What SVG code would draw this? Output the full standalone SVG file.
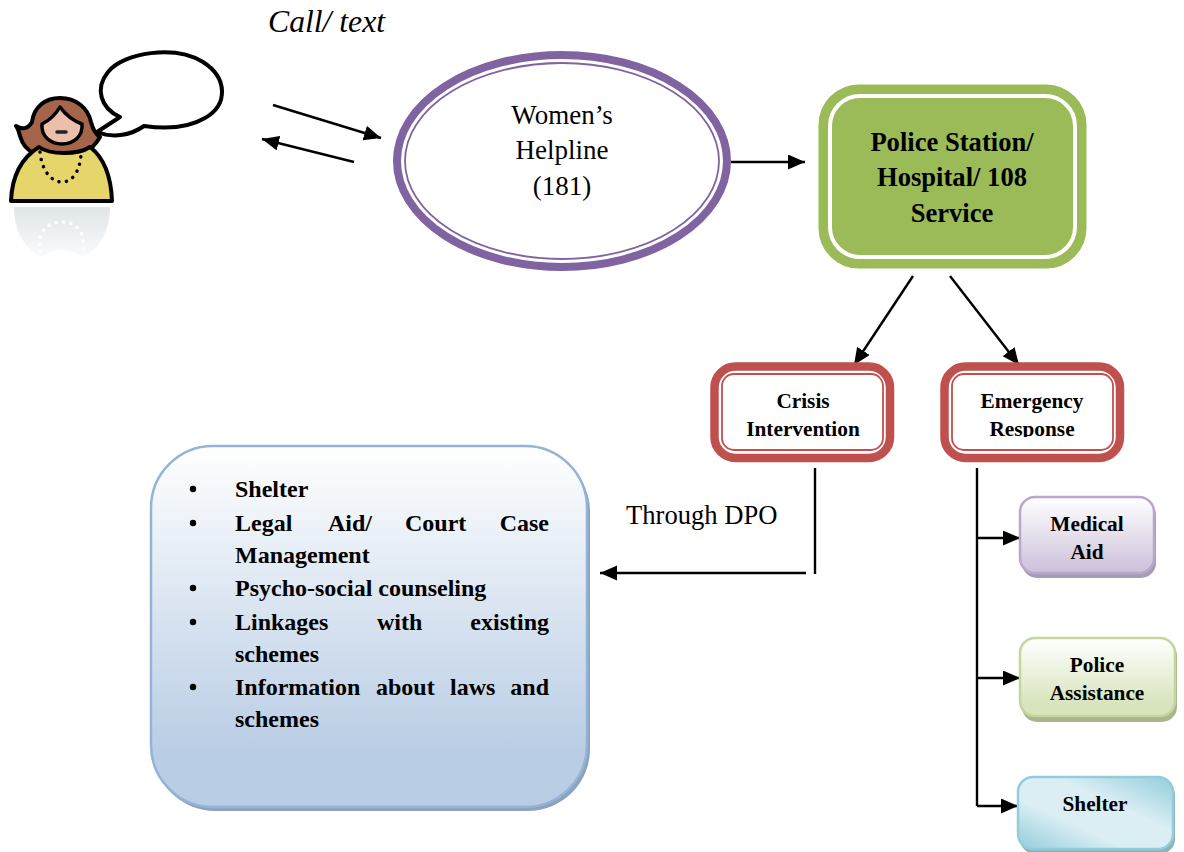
<svg xmlns="http://www.w3.org/2000/svg" width="1184" height="852" viewBox="0 0 1184 852">
<style>
text{font-family:"Liberation Serif","Times New Roman",serif;fill:#000}
.b{font-weight:bold;text-anchor:middle;font-size:21.3px}
.l{font-weight:bold;font-size:24px}
.r{font-size:27px;text-anchor:middle}
.p{font-weight:bold;font-size:26.6px;text-anchor:middle}
.c{stroke:#000;stroke-width:2.4;fill:none}
.red{fill:#fff;stroke:#c0504d;stroke-width:8.5}
.redi{fill:none;stroke:#c0504d;stroke-width:1.8}
</style>
<defs>
<marker id="a" markerUnits="userSpaceOnUse" markerWidth="20" markerHeight="16" refX="17" refY="7.500" orient="auto"><path d="M0 0L17 7.500L0 15Z" fill="#000"/></marker>
<clipPath id="cut"><rect x="700" y="385" width="440" height="52"/></clipPath>
<linearGradient id="gb" x1="0" y1="0" x2="0" y2="1"><stop offset="0" stop-color="#fff"/><stop offset=".85" stop-color="#b9cde5"/><stop offset="1" stop-color="#b9cde5"/></linearGradient>
<linearGradient id="gp" x1="0" y1="0" x2="0" y2="1"><stop offset="0" stop-color="#fff"/><stop offset="1" stop-color="#ccc0da"/></linearGradient>
<linearGradient id="gg" x1="0" y1="0" x2="0" y2="1"><stop offset="0" stop-color="#fff"/><stop offset=".85" stop-color="#d7e4bd"/></linearGradient>
<linearGradient id="gt" x1="0" y1="1" x2="1" y2="0"><stop offset="0" stop-color="#92cddc"/><stop offset=".35" stop-color="#dbeef4"/><stop offset=".62" stop-color="#dbeef4"/><stop offset="1" stop-color="#92cddc"/></linearGradient>
<linearGradient id="gr" x1="0" y1="0" x2="0" y2="1"><stop offset="0" stop-color="#dfe5e8"/><stop offset="1" stop-color="#fff"/></linearGradient>
</defs>

<g id="woman">
<path d="M14 207H110C110 230 100 248 84 256C88 262 96 264 100 266C86 258 74 250 62 250C50 250 38 258 24 266C28 264 36 262 40 256C24 248 14 230 14 207Z" fill="url(#gr)"/>
<path d="M40 252C36 232 48 222 62 222C76 222 86 232 83 252" fill="none" stroke="#fff" stroke-width="3.5" stroke-dasharray="0.1 7.4" stroke-linecap="round"/>
<path d="M120 117C100 108 95 88 108 72C124 52 175 45 203 62C228 78 228 105 205 118C188 128 165 129 144 126C130 136 112 138 97 132Z" fill="#fff" stroke="#000" stroke-width="4" stroke-linejoin="round"/>
<path d="M32 122C34 106 46 98 60 98C76 98 88 108 91 122C93 130 97 135 100 137C96 144 90 150 84 153H34C27 150 22 143 20 136C19 132 18 128 16 126C22 130 28 129 32 122Z" fill="#a5654a" stroke="#000" stroke-width="4" stroke-linejoin="round"/>
<path d="M11 201C12 175 23 157 39 147C50 155 78 155 90 147C103 157 111 175 112 201Z" fill="#e6d56a" stroke="#000" stroke-width="4" stroke-linejoin="round"/>
<path d="M42 124C50 120 56 114 60 107C65 114 74 121 82 124C83 136 74 144 62 144C50 144 41 136 42 124Z" fill="#ebbfa9" stroke="#000" stroke-width="3.5" stroke-linejoin="round"/>
<path d="M57 132H66" stroke="#222" stroke-width="3.500" stroke-linecap="round"/>
<path d="M40 152C42 172 52 182 62 182C72 182 80 172 81 154" fill="none" stroke="#000" stroke-width="3.5" stroke-dasharray="0.1 7.4" stroke-linecap="round"/>
</g>

<g id="connectors">
<path class="c" d="M273 105L381 138" marker-end="url(#a)"/>
<path class="c" d="M354 162L262 139" marker-end="url(#a)"/>
<path class="c" d="M731 162H805" marker-end="url(#a)"/>
<path class="c" d="M913 276L854 365" marker-end="url(#a)"/>
<path class="c" d="M950 276L1019 365" marker-end="url(#a)"/>
<path class="c" d="M815 468V574" stroke-width="2"/>
<path class="c" d="M806 573H600" marker-end="url(#a)"/>
<path class="c" d="M977 468V806"/>
<path class="c" d="M977 538H1020" marker-end="url(#a)"/>
<path class="c" d="M977 678H1020" marker-end="url(#a)"/>
<path class="c" d="M977 806H1018" marker-end="url(#a)"/>
</g>

<text x="268" y="32" font-size="31.7" font-style="italic">Call/ text</text>

<g id="helpline">
<ellipse cx="562" cy="161" rx="165" ry="106" fill="#fff" stroke="#8064a2" stroke-width="8"/>
<ellipse cx="562" cy="161" rx="157" ry="98" fill="none" stroke="#8064a2" stroke-width="1.8"/>
<text class="r" x="562" y="124">Women’s</text>
<text class="r" x="562" y="159">Helpline</text>
<text class="r" x="562" y="195">(181)</text>
</g>

<g id="police">
<rect x="823" y="89" width="259" height="175" rx="36" fill="#9bbb59" stroke="#9bbb59" stroke-width="9"/>
<rect x="830" y="96" width="245" height="161" rx="30" fill="none" stroke="#fff" stroke-width="4"/>
<text class="p" x="952" y="151">Police Station/</text>
<text class="p" x="952" y="186">Hospital/ 108</text>
<text class="p" x="952" y="222">Service</text>
</g>

<g id="crisis">
<rect class="red" x="714.500" y="366.500" width="175.500" height="91.500" rx="21"/>
<rect class="redi" x="722" y="374" width="161" height="76" rx="12"/>
<text class="b" x="803" y="408" clip-path="url(#cut)">Crisis</text>
<text class="b" x="803" y="436" clip-path="url(#cut)">Intervention</text>
</g>

<g id="emergency">
<rect class="red" x="944.500" y="366.500" width="175.500" height="91.500" rx="21"/>
<rect class="redi" x="952" y="374" width="161" height="76" rx="12"/>
<text class="b" x="1032" y="408" clip-path="url(#cut)">Emergency</text>
<text class="b" x="1032" y="436" clip-path="url(#cut)">Response</text>
</g>

<text x="626" y="524" font-size="26.6">Through DPO</text>

<g id="services">
<rect x="153" y="450" width="437" height="361" rx="62" fill="#8da3bd"/>
<rect x="151" y="446" width="436" height="361" rx="62" fill="url(#gb)" stroke="#95b3d7" stroke-width="2.5"/>
<circle cx="193" cy="489" r="3.200"/><circle cx="193" cy="523" r="3.200"/><circle cx="193" cy="588" r="3.200"/><circle cx="193" cy="622" r="3.200"/><circle cx="193" cy="687" r="3.200"/>
<text class="l" x="235" y="497">Shelter</text>
<text class="l" x="235" y="531">Legal</text><text class="l" x="328" y="531">Aid/</text><text class="l" x="405" y="531">Court</text><text class="l" x="549" y="531" text-anchor="end">Case</text>
<text class="l" x="235" y="563">Management</text>
<text class="l" x="235" y="596">Psycho-social counseling</text>
<text class="l" x="235" y="630">Linkages</text><text class="l" x="377" y="630">with</text><text class="l" x="549" y="630" text-anchor="end">existing</text>
<text class="l" x="235" y="662">schemes</text>
<text class="l" x="235" y="695">Information</text><text class="l" x="376" y="695">about</text><text class="l" x="450" y="695">laws</text><text class="l" x="549" y="695" text-anchor="end">and</text>
<text class="l" x="235" y="727">schemes</text>
</g>

<g id="medical">
<rect x="1022" y="500" width="134" height="78" rx="15" fill="#a79cb6"/>
<rect x="1020" y="497" width="134" height="76" rx="15" fill="url(#gp)" stroke="#b9a7cf" stroke-width="2.5"/>
<text class="b" x="1087" y="531">Medical</text>
<text class="b" x="1087" y="559">Aid</text>
</g>

<g id="assistance">
<rect x="1022" y="641" width="155" height="81" rx="15" fill="#a9b58f"/>
<rect x="1020" y="638" width="155" height="78" rx="15" fill="url(#gg)" stroke="#c3d69b" stroke-width="2.5"/>
<text class="b" x="1097" y="672">Police</text>
<text class="b" x="1097" y="700">Assistance</text>
</g>

<g id="shelter">
<rect x="1020" y="780" width="155" height="74" rx="15" fill="#8fb2bd"/>
<rect x="1018" y="777" width="155" height="72" rx="15" fill="url(#gt)" stroke="#92cddc" stroke-width="2.5"/>
<text class="b" x="1095" y="811">Shelter</text>
</g>
</svg>
